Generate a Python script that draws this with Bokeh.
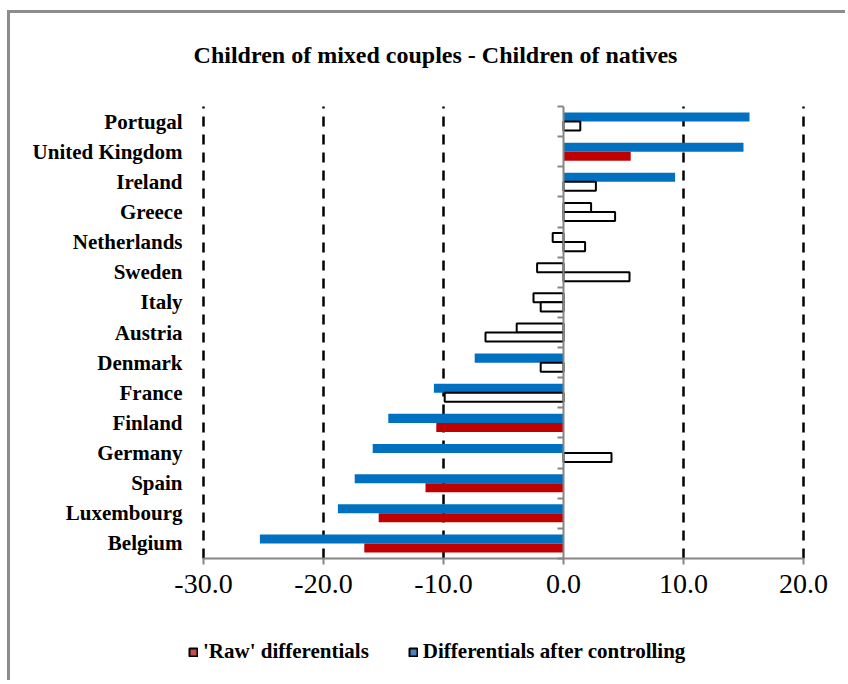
import numpy as np
from bokeh.plotting import figure
from bokeh.models import (ColumnDataSource, Range1d, LinearAxis, FixedTicker,
                          NumeralTickFormatter, Label, Legend, LegendItem)
from bokeh.embed import file_html
from bokeh.resources import INLINE

# ---------------- data ----------------
countries = ["Portugal", "United Kingdom", "Ireland", "Greece", "Netherlands", "Sweden",
             "Italy", "Austria", "Denmark", "France", "Finland", "Germany", "Spain",
             "Luxembourg", "Belgium"]
raw = [1.4, 5.6, 2.7, 4.3, 1.8, 5.5, -1.9, -6.5, -1.9, -9.9, -10.6, 4.0, -11.5, -15.4, -16.6]
controlled = [15.5, 15.0, 9.3, 2.3, -0.9, -2.2, -2.5, -3.9, -7.4, -10.8, -14.6, -15.9,
              -17.4, -18.8, -25.3]
raw_significant = [False, True, False, False, False, False, False, False, False, False,
                   True, False, True, True, True]
controlled_significant = [True, True, True, False, False, False, False, False, True, True,
                          True, True, True, True, True]
x_ticks = [-30, -20, -10, 0, 10, 20]
title_text = "Children of mixed couples - Children of natives"
legend_labels = ["'Raw' differentials", "Differentials after controlling"]

# ---------------- style / layout ----------------
SERIF = "Liberation Serif"
BLUE, RED = "#0070C0", "#C00000"
LEGEND_RED, LEGEND_BLUE = "#C0504D", "#4F81BD"
AXIS_GREY = "#868686"
W, H = 838, 670              # canvas size (frame fills the canvas)
PLOT_LEFT, PLOT_RIGHT = 193, 793   # canvas px of first / last x tick
PLOT_TOP, PLOT_BOTTOM = 93, 545    # canvas px (from top) of category area
n = len(countries)

px_per_x = (PLOT_RIGHT - PLOT_LEFT) / (x_ticks[-1] - x_ticks[0])
px_per_y = (PLOT_BOTTOM - PLOT_TOP) / n
x_start = x_ticks[0] - PLOT_LEFT / px_per_x
x_end = x_start + W / px_per_x
y_start = -(H - PLOT_BOTTOM) / px_per_y
y_end = n + PLOT_TOP / px_per_y

# category centre positions (first country at the top)
centres = [n - 1 - i + 0.5 for i in range(n)]


def subset(vals, flags, keep, off):
    return ColumnDataSource(dict(
        y=[c + off for c, f in zip(centres, flags) if f == keep],
        val=[v for v, f in zip(vals, flags) if f == keep]))


p = figure(width=W, height=H,
           x_range=Range1d(x_start, x_end), y_range=Range1d(y_start, y_end),
           x_axis_location=None, y_axis_location=None,
           output_backend="svg", toolbar_location=None,
           min_border_left=0, min_border_right=0, min_border_top=0, min_border_bottom=0,
           styles={"border-top": "3px solid #8c8c8c", "border-left": "3px solid #8c8c8c",
                   "margin-top": "10px", "margin-left": "7px"})
p.outline_line_color = None
p.grid.visible = False
p.background_fill_color = "white"
p.border_fill_color = "white"

# dashed vertical grid lines (not at zero), spanning the category area
grid_x = [t for t in x_ticks if t != 0]
p.segment(x0=grid_x, x1=grid_x, y0=[0] * len(grid_x), y1=[n] * len(grid_x),
          line_color="black", line_width=2.5, line_dash="10 8")

# bars: controlled (upper) and raw (lower)
specs = [
    (controlled, controlled_significant, 0.15, BLUE),
    (raw, raw_significant, -0.15, RED),
]
for vals, flags, off, col in specs:
    p.hbar(y="y", left=0, right="val", height=0.3,
           source=subset(vals, flags, True, off), fill_color=col, line_color=None)
    p.hbar(y="y", left=0, right="val", height=0.3,
           source=subset(vals, flags, False, off), fill_color="white", line_color="black",
           line_width=2)

# x axis at the bottom of the category area
xa = LinearAxis(fixed_location=0, ticker=FixedTicker(ticks=x_ticks),
                bounds=(x_ticks[0], x_ticks[-1]),
                formatter=NumeralTickFormatter(format="0.0"),
                axis_line_color=AXIS_GREY, axis_line_width=2,
                major_tick_line_color=AXIS_GREY, major_tick_line_width=2,
                major_tick_out=6, major_tick_in=0, minor_tick_line_color=None,
                major_label_text_font=SERIF, major_label_text_font_size="28px",
                major_label_text_color="black", major_label_standoff=10)
p.add_layout(xa, "below")

# category labels, right-aligned left of the first dashed line
ya = LinearAxis(fixed_location=x_ticks[0], ticker=FixedTicker(ticks=centres),
                bounds=(0, n),
                major_label_overrides={c: name for c, name in zip(centres, countries)},
                axis_line_color=None, major_tick_line_color=None,
                major_tick_out=0, major_tick_in=0, minor_tick_line_color=None,
                major_label_standoff=21, major_label_text_font=SERIF,
                major_label_text_font_style="bold", major_label_text_font_size="21px",
                major_label_text_color="black")
p.add_layout(ya, "left")

# vertical axis at zero with ticks at category boundaries
bounds = list(range(n + 1))
zero_axis = LinearAxis(fixed_location=0, ticker=FixedTicker(ticks=bounds), bounds=(0, n),
                       axis_line_color=AXIS_GREY, axis_line_width=2,
                       major_tick_line_color=AXIS_GREY, major_tick_line_width=2,
                       major_tick_out=6, major_tick_in=0, minor_tick_line_color=None,
                       major_label_overrides={b: "" for b in bounds},
                       major_label_text_font_size="0px")
p.add_layout(zero_axis, "left")

# title
p.add_layout(Label(x=425, y=H - 54 + 13, x_units="screen", y_units="screen",
                   text=title_text, text_align="center", text_baseline="alphabetic",
                   text_font=SERIF, text_font_style="bold", text_font_size="24px",
                   text_color="black"))

# legend swatches: renderers with no visible marks, used only for the legend
empty = dict(left=np.array([np.nan]), right=np.array([np.nan]),
             top=np.array([np.nan]), bottom=np.array([np.nan]))
r_raw = p.quad(source=ColumnDataSource(dict(empty)), left="left", right="right",
               top="top", bottom="bottom", fill_color=LEGEND_RED,
               line_color="black", line_width=2)
r_ctrl = p.quad(source=ColumnDataSource(dict(empty)), left="left", right="right",
                top="top", bottom="bottom", fill_color=LEGEND_BLUE,
                line_color="black", line_width=2)
legend = Legend(items=[LegendItem(label=legend_labels[0], renderers=[r_raw]),
                       LegendItem(label=legend_labels[1], renderers=[r_ctrl])],
                orientation="horizontal", location=(178, 19),
                glyph_width=10, glyph_height=10, label_standoff=5, spacing=39,
                padding=0, margin=0, border_line_color=None, background_fill_alpha=0,
                label_text_font=SERIF, label_text_font_style="bold",
                label_text_font_size="21px", label_text_color="black")
p.add_layout(legend)

open("out.html", "w").write(file_html(p, INLINE))
